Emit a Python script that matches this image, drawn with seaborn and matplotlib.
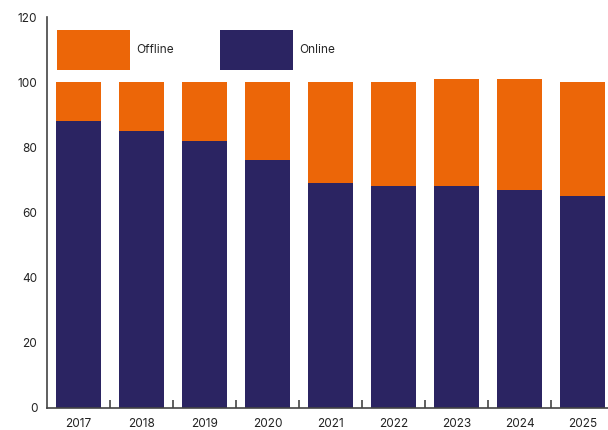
import matplotlib
matplotlib.use("Agg")
import matplotlib.pyplot as plt
import seaborn as sns
import pandas as pd

# values
years = ["2017", "2018", "2019", "2020", "2021", "2022", "2023", "2024", "2025"]
online = [88, 85, 82, 76, 69, 68, 68, 67, 65]
offline = [12, 15, 18, 24, 31, 32, 33, 34, 35]
totals = [a + b for a, b in zip(online, offline)]

orange = "#EC6608"
navy = "#2B2462"

sns.set_style("white")
plt.rcParams["font.family"] = ["Inter", "DejaVu Sans"]

df = pd.DataFrame({"year": years, "online": online, "total": totals})

fig = plt.figure(figsize=(6.08, 4.30), dpi=100)
ax = fig.add_axes([47 / 608, 22 / 430, 567 / 608, 391 / 430])

sns.barplot(data=df, x="year", y="total", color=orange, width=0.73,
            saturation=1, ax=ax, label="Offline", linewidth=0)
sns.barplot(data=df, x="year", y="online", color=navy, width=0.73,
            saturation=1, ax=ax, label="Online", linewidth=0)

ax.set_xlim(-0.5, 8.5)
ax.set_ylim(0, 120)
ax.set_yticks(range(0, 121, 20))
ax.set_xlabel("")
ax.set_ylabel("")

for s in ["top", "right"]:
    ax.spines[s].set_visible(False)
for s in ["left", "bottom"]:
    ax.spines[s].set_color("#444444")
    ax.spines[s].set_linewidth(1.2)

# x ticks sit between the bars
ax.set_xticks([i + 0.5 for i in range(len(years) - 1)], minor=True)
ax.tick_params(axis="x", which="major", length=0, pad=7, labelsize=8.5, colors="#222222")
ax.tick_params(axis="x", which="minor", bottom=True, direction="in", length=6,
               width=1.2, color="#444444")
ax.tick_params(axis="y", direction="in", length=9, width=1.2, pad=7,
               labelsize=8.5, colors="#222222")

ax.legend(loc="upper left", bbox_to_anchor=(0.005, 0.985), ncol=2, frameon=False,
          handlelength=6.2, handleheight=4.8, handletextpad=0.5,
          columnspacing=3.9, fontsize=8.5, borderaxespad=0.2)

fig.savefig("out.png", dpi=100)
